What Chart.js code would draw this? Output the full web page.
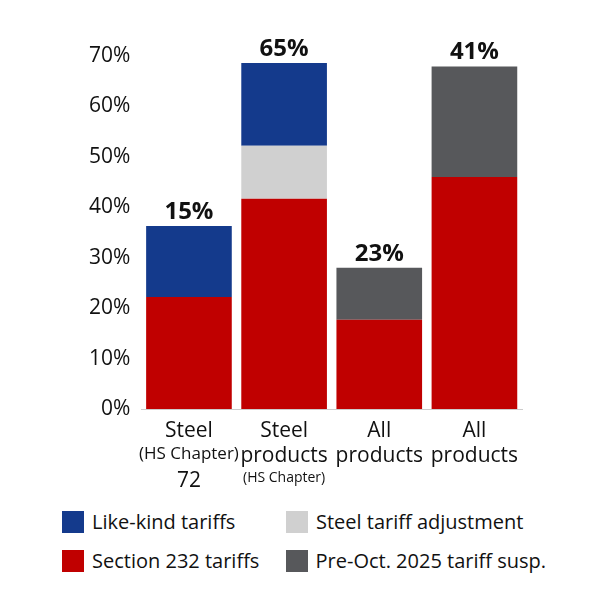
<!DOCTYPE html>
<html><head><meta charset="utf-8">
<script src="https://cdn.jsdelivr.net/npm/chart.js@4"></script>
<style>
body{margin:0;background:#fff;font-family:"Open Sans",sans-serif}
#wrap{position:absolute;left:0;top:0;width:600px;height:500px}
#legend{position:absolute;left:62px;top:508px;display:grid;grid-template-columns:224px 260px;row-gap:12px;font-size:20px;color:#111}
#legend div{display:flex;align-items:center;white-space:nowrap}
#legend span{display:inline-block;width:22px;height:22px;margin-right:8px}
</style></head><body>
<div id="wrap"><canvas id="c"></canvas></div>
<div id="legend"></div>
<script>
const categories = [
  ['Steel', '(HS Chapter)', '72'],
  ['Steel', 'products', '(HS Chapter)'],
  ['All', 'products'],
  ['All', 'products']
];
const smallLine = [[false, false, false], [false, false, true], [false, false], [false, false]];
const totals = ['15%', '65%', '23%', '41%'];
const section232 = [22.2, 41.7, 17.7, 46.0];
const steelAdj = [0, 10.5, 0, 0];
const likeKind = [14.1, 16.4, 0, 0];
const preOct = [0, 0, 10.3, 21.9];
const yTicks = [0, 10, 20, 30, 40, 50, 60, 70];

const series = [
  { label: 'Section 232 tariffs', data: section232, color: '#c00000' },
  { label: 'Steel tariff adjustment', data: steelAdj, color: '#d0d0d0' },
  { label: 'Like-kind tariffs', data: likeKind, color: '#143a8c' },
  { label: 'Pre-Oct. 2025 tariff susp.', data: preOct, color: '#57585b' }
];

const legendOrder = [2, 1, 0, 3];
document.getElementById('legend').innerHTML = legendOrder.map(i =>
  `<div><span style="background:${series[i].color}"></span>${series[i].label}</div>`).join('');

const labelPlugin = {
  id: 'labels',
  afterDraw(chart) {
    const ctx = chart.ctx, x = chart.scales.x, y = chart.scales.y;
    ctx.save();
    ctx.textAlign = 'center';
    ctx.fillStyle = '#111';
    categories.forEach((lines, i) => {
      const px = x.getPixelForValue(i);
      let total = 0;
      series.forEach(s => total += s.data[i]);
      ctx.font = 'bold 24px "Open Sans"';
      ctx.textBaseline = 'bottom';
      ctx.fillText(totals[i], px, y.getPixelForValue(total) - 2);
      ctx.textBaseline = 'top';
      let ty = chart.chartArea.bottom + 12;
      lines.forEach((ln, j) => {
        ctx.font = (smallLine[i][j] ? '14px' : (i === 0 && j === 1 ? '17px' : '21px')) + ' "Open Sans"';
        ctx.fillText(ln, px, ty);
        ty += smallLine[i][j] ? 20 : 25;
      });
    });
    ctx.restore();
  }
};

new Chart(document.getElementById('c'), {
  type: 'bar',
  data: {
    labels: categories.map(c => c.join(' ')),
    datasets: series.map(s => ({ label: s.label, data: s.data, backgroundColor: s.color, barPercentage: 0.9, categoryPercentage: 1 }))
  },
  options: {
    responsive: true, maintainAspectRatio: false, animation: false,
    layout: { padding: { left: 86, right: 78, top: 56, bottom: 0 } },
    plugins: { legend: { display: false }, tooltip: { enabled: false } },
    scales: {
      x: { stacked: true, grid: { display: false }, border: { color: '#ccc' }, ticks: { display: false }, afterFit: s => { s.height = 91; } },
      y: { stacked: true, min: 0, max: 70, grid: { display: false }, border: { display: false },
        afterBuildTicks: s => { s.ticks = yTicks.map(v => ({ value: v })); },
        ticks: { color: '#111', font: { size: 21, family: 'Open Sans' }, callback: v => v + '%' } }
    }
  },
  plugins: [labelPlugin]
});
</script>
</body></html>
